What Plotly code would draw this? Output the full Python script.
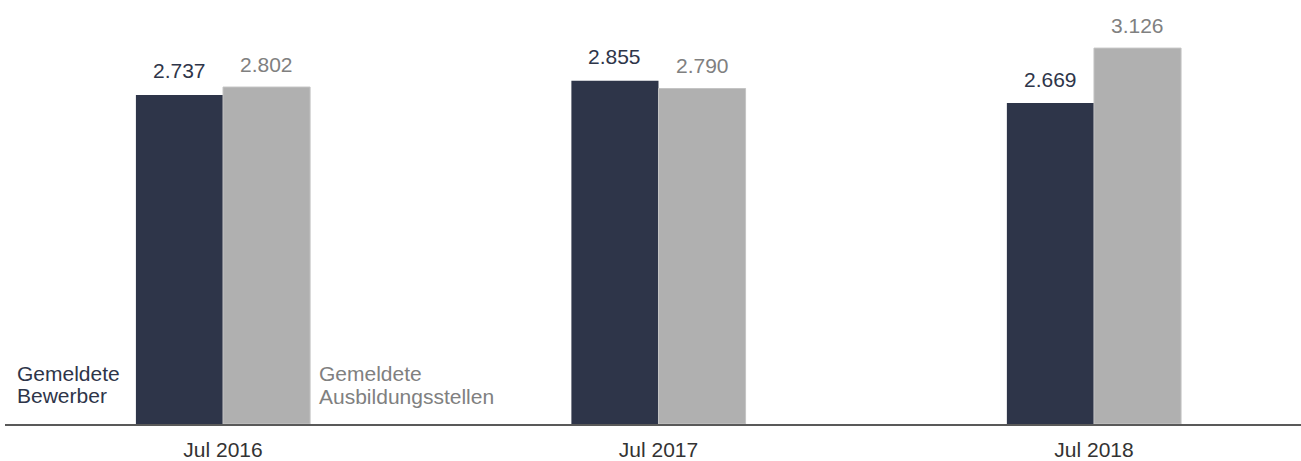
import plotly.graph_objects as go

categories = ["Jul 2016", "Jul 2017", "Jul 2018"]
bewerber = [2737, 2855, 2669]
stellen = [2802, 2790, 3126]
series_names = ["Gemeldete Bewerber", "Gemeldete Ausbildungsstellen"]
legend_lines = [["Gemeldete", "Bewerber"], ["Gemeldete", "Ausbildungsstellen"]]

DARK = "#2E3549"
GRAY = "#B0B0B0"
GRAY_TEXT = "#808080"
FONT = "Liberation Sans, Arial, sans-serif"

def fmt(v):
    return f"{v:,}".replace(",", ".")

fig = go.Figure()
fig.add_bar(x=categories, y=bewerber, name=series_names[0], marker_color=DARK,
            marker_line_width=0, hoverinfo="skip")
fig.add_bar(x=categories, y=stellen, name=series_names[1], marker_color=GRAY,
            marker_line_color="#C4C4C4", marker_line_width=1, hoverinfo="skip")

annotations = []
bar_w = 0.2
for i, (b, s) in enumerate(zip(bewerber, stellen)):
    annotations.append(dict(x=i - bar_w / 2, y=b, xref="x", yref="y", text=fmt(b),
                            showarrow=False, yanchor="middle", yshift=24,
                            font=dict(size=21, color=DARK, family=FONT)))
    annotations.append(dict(x=i + bar_w / 2, y=s, xref="x", yref="y", text=fmt(s),
                            showarrow=False, yanchor="middle", yshift=23,
                            font=dict(size=21, color=GRAY_TEXT, family=FONT)))

# in-plot legend labels
for j, line in enumerate(legend_lines[0]):
    annotations.append(dict(x=10 / 1296, y=(426 - 375.5 - j * 21.5) / 426, xref="paper", yref="paper",
                            text=line, showarrow=False, xanchor="left", yanchor="middle",
                            font=dict(size=21, color=DARK, family=FONT)))
for j, line in enumerate(legend_lines[1]):
    annotations.append(dict(x=0, y=(426 - 375.5 - j * 22.5) / 426, xref="x", yref="paper",
                            text=line, showarrow=False, xanchor="left", yanchor="middle",
                            xshift=(319.5 - 223) - 3,
                            font=dict(size=21, color=GRAY_TEXT, family=FONT)))

fig.update_layout(
    width=1301, height=461,
    margin=dict(l=5, r=0, t=0, b=35),
    paper_bgcolor="white", plot_bgcolor="white",
    barmode="group", bargap=0.6, bargroupgap=0,
    showlegend=False,
    font=dict(family=FONT, size=21, color="#333333"),
    xaxis=dict(type="category", range=[-0.5006, 2.4754], showline=True,
               linecolor="#595959", linewidth=2, showgrid=False,
               ticks="outside", ticklen=6, tickcolor="rgba(0,0,0,0)",
               tickfont=dict(size=21, color="#333333", family=FONT), fixedrange=True),
    yaxis=dict(range=[0, 3526], visible=False, showgrid=False, zeroline=False, fixedrange=True),
    annotations=annotations,
)

fig.write_html("out.html", config={"displayModeBar": False},
               post_script="document.body.style.margin='0';document.body.style.overflow='hidden';")
